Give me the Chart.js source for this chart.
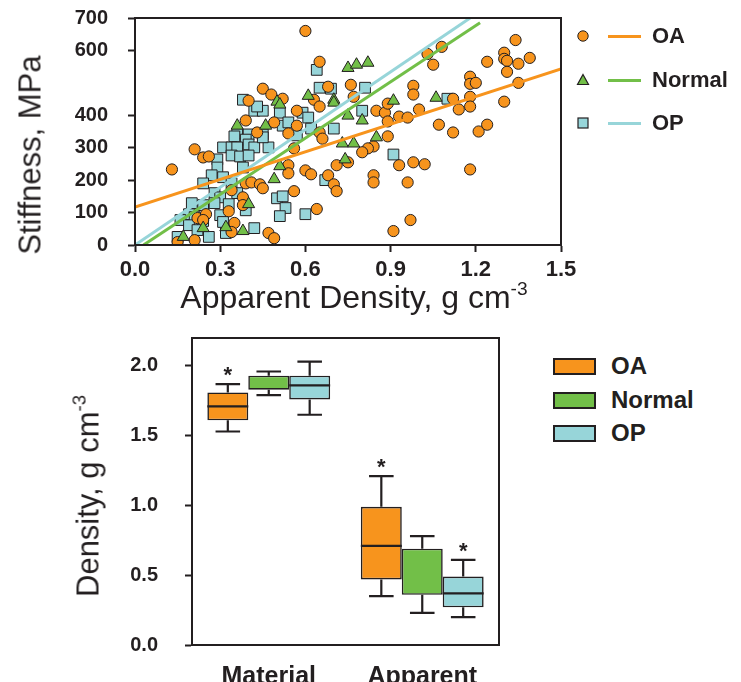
<!DOCTYPE html>
<html>
<head>
<meta charset="utf-8">
<script src="https://cdn.jsdelivr.net/npm/chart.js@4.4.1/dist/chart.umd.min.js"></script>
<style>
    body { margin: 0; background: #fff; font-family: "Liberation Sans", Arial, sans-serif; color: #231f20; }
    #wrap { position: relative; width: 741px; height: 682px; overflow: hidden; }
    canvas { position: absolute; left: 0; }
    .title { position: absolute; white-space: nowrap; line-height: 1; font-size: 30px; transform: translate(-50%, -50%); }
    .title.rot { transform: translate(-50%, -50%) rotate(-90deg); }
    sup { font-size: 0.6em; vertical-align: 0.7em; line-height: 0; }
    .leg { position: absolute; font-weight: bold; white-space: nowrap; line-height: 1; }
</style>
</head>
<body>
<div id="wrap">
    <canvas id="scatterChart" width="600" height="334" style="top:-14px"></canvas>
    <canvas id="boxChart" width="520" height="385" style="top:299px"></canvas>

    <div class="title rot" style="left:30px; top:155px; font-size:31px">Stiffness, MPa</div>
    <div class="title" style="left:354px; top:297px; font-size:32px">Apparent Density, g cm<sup>-3</sup></div>
    <div class="title rot" style="left:88px; top:496px; font-size:31px">Density, g cm<sup>-3</sup></div>

    <div id="scatterLegend"></div>
    <div id="boxLegend"></div>
</div>

<script>
// ===== DATA =====
const groups = ['OA', 'Normal', 'OP'];
const fillColors = ['#f7941d', '#72bf48', '#97d5d9'];
const ink = '#231f20';

// Apparent density (g cm-3) vs stiffness (MPa), one pair of arrays per group
const oaDensity = [0.60, 0.65, 0.45, 0.48, 0.40, 0.52, 0.63, 0.65, 0.76, 0.77, 0.68, 0.39, 0.49, 0.57, 0.57,
    0.43, 0.54, 0.65, 0.66, 0.21, 0.24, 0.26, 0.13, 0.56, 0.54, 0.54, 0.60, 0.62, 0.68, 0.70, 0.71, 0.39,
    0.41, 0.44, 0.45, 0.34, 0.38, 0.38, 0.56, 0.64, 0.22, 0.25, 0.24, 0.35, 0.34, 0.21, 0.15, 0.47, 0.49,
    0.33, 0.85, 0.88, 0.89, 0.93, 0.96, 1.00, 0.89, 0.89, 0.84, 0.82, 0.80, 0.71, 0.75, 0.84, 0.84, 0.93,
    0.98, 1.02, 0.96, 0.97, 0.91, 0.98, 0.98, 1.03, 1.05, 1.08, 1.12, 1.14, 1.07, 1.12, 1.18, 1.18, 1.20,
    1.18, 1.18, 1.18, 1.21, 1.24, 1.30, 1.24, 1.30, 1.30, 1.31, 1.35, 1.34, 1.39, 1.31, 1.35];
const oaStiffness = [660, 565, 482, 464, 445, 451, 448, 427, 494, 457, 488, 384, 378, 414, 368,
    347, 344, 347, 328, 295, 270, 273, 233, 298, 246, 221, 230, 218, 215, 187, 166, 190,
    193, 187, 175, 169, 147, 123, 166, 111, 83, 95, 77, 68, 40, 15, 9, 37, 21,
    104, 414, 408, 436, 396, 393, 418, 381, 335, 304, 298, 286, 246, 255, 215, 193, 246,
    255, 249, 193, 77, 43, 491, 464, 589, 556, 611, 451, 418, 371, 347, 519, 497, 500,
    457, 427, 233, 350, 371, 442, 565, 593, 574, 568, 559, 632, 577, 534, 500];

const normalDensity = [0.75, 0.78, 0.82, 0.61, 0.50, 0.51, 0.70, 0.70, 0.91, 1.06, 0.75, 0.80, 0.36,
    0.46, 0.73, 0.77, 0.85, 0.74, 0.51, 0.49, 0.40, 0.32, 0.38, 0.24, 0.17];
const normalStiffness = [546, 556, 562, 460, 442, 433, 448, 439, 445, 454, 399, 384, 368,
    368, 313, 313, 332, 264, 243, 203, 126, 55, 43, 52, 25];

const opDensity = [0.38, 0.42, 0.45, 0.43, 0.51, 0.52, 0.54, 0.36, 0.40, 0.45, 0.35, 0.39, 0.47, 0.31,
    0.34, 0.36, 0.40, 0.42, 0.34, 0.37, 0.40, 0.29, 0.29, 0.38, 0.27, 0.24, 0.31, 0.34, 0.28, 0.36,
    0.30, 0.20, 0.24, 0.28, 0.33, 0.39, 0.19, 0.21, 0.30, 0.16, 0.19, 0.24, 0.31, 0.15, 0.22, 0.26,
    0.32, 0.42, 0.50, 0.52, 0.53, 0.51, 0.60, 0.67, 0.64, 0.65, 0.69, 0.81, 0.80, 0.59, 0.61, 0.57,
    0.62, 0.70, 0.91, 1.10, 0.45];
const opStiffness = [448, 414, 414, 427, 408, 368, 378, 344, 341, 341, 335, 325, 301, 301,
    301, 301, 310, 301, 276, 273, 276, 264, 239, 239, 215, 190, 209, 190, 160, 160,
    147, 129, 123, 129, 126, 107, 95, 86, 92, 77, 61, 74, 71, 25, 46, 25,
    37, 52, 144, 150, 114, 89, 95, 200, 540, 485, 482, 485, 414, 408, 393, 338,
    359, 359, 279, 451, 332];

// Regression lines, two end points each
const fitDensity = [[0.0, 1.5], [0.03, 1.215], [0.0, 1.18]];
const fitStiffness = [[117, 543], [0, 685], [0, 700]];

const scatterXTicks = [0, 0.3, 0.6, 0.9, 1.2, 1.5];
const scatterYTicks = [0, 100, 200, 300, 400, 600, 700];

// Box plot: material vs apparent density, one row per group
const boxCategories = ['Material', 'Apparent'];
const whiskerLow  = [[1.53, 0.35], [1.79, 0.23], [1.65, 0.20]];
const quartile1   = [[1.61, 0.47], [1.83, 0.36], [1.76, 0.27]];
const medians     = [[1.71, 0.71], [null, null], [1.86, 0.37]];
const quartile3   = [[1.81, 0.99], [1.93, 0.69], [1.93, 0.49]];
const whiskerHigh = [[1.87, 1.21], [1.96, 0.78], [2.03, 0.61]];
const starred     = [[true, true], [false, false], [false, true]];
const boxYTicks = [0, 0.5, 1.0, 1.5, 2.0];

// ===== SHARED =====
const font = '"Liberation Sans", Arial, sans-serif';
Chart.defaults.font.family = font;
Chart.defaults.color = ink;

const frame = {
    id: 'frame',
    afterDraw(chart) {
        const { ctx, chartArea: a } = chart;
        ctx.save();
        ctx.strokeStyle = ink;
        ctx.lineWidth = 2;
        ctx.strokeRect(a.left, a.top, a.right - a.left, a.bottom - a.top);
        ctx.restore();
    }
};

function tickAxis(values, decimals, extra) {
    return Object.assign({
        type: 'linear',
        min: values[0],
        max: values[values.length - 1],
        afterBuildTicks: s => { s.ticks = values.map(v => ({ value: v })); },
        ticks: {
            callback: v => decimals ? v.toFixed(decimals) : String(v),
            font: { size: 20, weight: 'bold' },
            color: ink,
            maxRotation: 0,
            autoSkip: false
        },
        grid: { drawOnChartArea: false, tickLength: 7, tickWidth: 2, tickColor: ink },
        border: { color: ink, width: 2 }
    }, extra);
}

// ===== SCATTER =====
const pointStyles = ['circle', 'triangle', 'rect'];
const pointSizes = [5.6, 7, 7.6];
const xs = [oaDensity, normalDensity, opDensity];
const ys = [oaStiffness, normalStiffness, opStiffness];
const drawOrder = [2, 1, 3];

const scatterSets = groups.map((g, i) => ({
    type: 'scatter',
    label: g,
    data: xs[i].map((x, k) => ({ x: x, y: ys[i][k] })),
    pointStyle: pointStyles[i],
    pointRadius: pointSizes[i],
    backgroundColor: fillColors[i],
    borderColor: ink,
    borderWidth: 1,
    order: drawOrder[i]
}));

const fitSets = groups.map((g, i) => ({
    type: 'line',
    label: g + ' fit',
    data: fitDensity[i].map((x, k) => ({ x: x, y: fitStiffness[i][k] })),
    borderColor: fillColors[i],
    borderWidth: 3,
    pointRadius: 0,
    fill: false,
    order: 0
}));

const xScatter = tickAxis(scatterXTicks, 1, { afterFit: s => { s.height = 75; } });
xScatter.ticks.font = { size: 22, weight: 'bold' };
xScatter.ticks.padding = 5;
const yScatter = tickAxis(scatterYTicks, 0, { afterFit: s => { s.width = 135; } });
yScatter.ticks.padding = 20;

new Chart(document.getElementById('scatterChart'), {
    data: { datasets: scatterSets.concat(fitSets) },
    options: {
        responsive: false,
        animation: false,
        devicePixelRatio: 1,
        layout: { padding: { top: 17, right: 39, left: 0, bottom: 0 } },
        plugins: { legend: { display: false }, tooltip: { enabled: false } },
        scales: { x: xScatter, y: yScatter }
    },
    plugins: [frame]
});

// ===== BOX PLOT =====
// boxes are floating bars (q1..q3); whiskers, medians and stars drawn on top
const boxWhiskers = {
    id: 'boxWhiskers',
    afterDatasetsDraw(chart) {
        const ctx = chart.ctx;
        const y = chart.scales.y;
        ctx.save();
        ctx.strokeStyle = ink;
        ctx.fillStyle = ink;
        ctx.lineWidth = 2.2;
        chart.data.datasets.forEach((ds, g) => {
            chart.getDatasetMeta(g).data.forEach((bar, i) => {
                const cx = bar.x;
                const half = bar.width / 2;
                const cap = bar.width * 0.3;
                const yHigh = y.getPixelForValue(whiskerHigh[g][i]);
                const yLow = y.getPixelForValue(whiskerLow[g][i]);
                const yQ3 = y.getPixelForValue(quartile3[g][i]);
                const yQ1 = y.getPixelForValue(quartile1[g][i]);
                ctx.beginPath();
                ctx.moveTo(cx, yQ3); ctx.lineTo(cx, yHigh);
                ctx.moveTo(cx - cap, yHigh); ctx.lineTo(cx + cap, yHigh);
                ctx.moveTo(cx, yQ1); ctx.lineTo(cx, yLow);
                ctx.moveTo(cx - cap, yLow); ctx.lineTo(cx + cap, yLow);
                if (medians[g][i] !== null) {
                    const yMed = y.getPixelForValue(medians[g][i]);
                    ctx.moveTo(cx - half, yMed); ctx.lineTo(cx + half, yMed);
                }
                ctx.stroke();
                if (starred[g][i]) {
                    ctx.font = 'bold 22px ' + font;
                    ctx.textAlign = 'center';
                    ctx.textBaseline = 'alphabetic';
                    ctx.fillText('*', cx, yHigh - 2);
                }
            });
        });
        ctx.restore();
    }
};

const boxSets = groups.map((g, i) => ({
    label: g,
    data: quartile1[i].map((q, k) => [q, quartile3[i][k]]),
    backgroundColor: fillColors[i],
    borderColor: ink,
    borderWidth: 1.6,
    borderSkipped: false,
    barPercentage: 1,
    categoryPercentage: 0.8
}));

const yBox = tickAxis(boxYTicks, 1, { afterFit: s => { s.width = 192; } });
yBox.max = 2.2;
yBox.ticks.padding = 27;

new Chart(document.getElementById('boxChart'), {
    type: 'bar',
    data: { labels: boxCategories, datasets: boxSets },
    options: {
        responsive: false,
        animation: false,
        devicePixelRatio: 1,
        layout: { padding: { top: 17, right: 21, left: 0, bottom: 0 } },
        plugins: { legend: { display: false }, tooltip: { enabled: false } },
        scales: {
            x: {
                afterFit: s => { s.height = 38; },
                ticks: { font: { size: 25, weight: 'bold' }, color: ink, padding: 9 },
                grid: { display: false },
                border: { color: ink, width: 2 }
            },
            y: yBox
        }
    },
    plugins: [boxWhiskers, frame]
});

// ===== LEGENDS =====
const markerSvg = [
    '<circle cx="7" cy="7" r="5.2" fill="FILL" stroke="#231f20" stroke-width="1"/>',
    '<polygon points="7,1.5 12.5,11.5 1.5,11.5" fill="FILL" stroke="#231f20" stroke-width="1.2"/>',
    '<rect x="2" y="2" width="10" height="10" fill="FILL" stroke="#231f20" stroke-width="1.2"/>'
];
const scatterRows = [36, 80, 123];
const boxRows = [366, 400, 433];

const scatterLegend = document.getElementById('scatterLegend');
const boxLegend = document.getElementById('boxLegend');
groups.forEach((g, i) => {
    const y = scatterRows[i];
    scatterLegend.innerHTML +=
        `<svg style="position:absolute;left:576px;top:${y - 7}px" width="14" height="14">${markerSvg[i].replace('FILL', fillColors[i])}</svg>
         <div style="position:absolute;left:608px;top:${y - 1.5}px;width:33px;height:3px;background:${fillColors[i]}"></div>
         <div class="leg" style="left:652px;top:${y - 11}px;font-size:22px">${g}</div>`;

    const b = boxRows[i];
    boxLegend.innerHTML +=
        `<div style="position:absolute;left:553px;top:${b - 8}px;width:39px;height:13px;background:${fillColors[i]};border:2px solid ${ink}"></div>
         <div class="leg" style="left:611px;top:${b - 12}px;font-size:24px">${g}</div>`;
});
</script>
</body>
</html>
